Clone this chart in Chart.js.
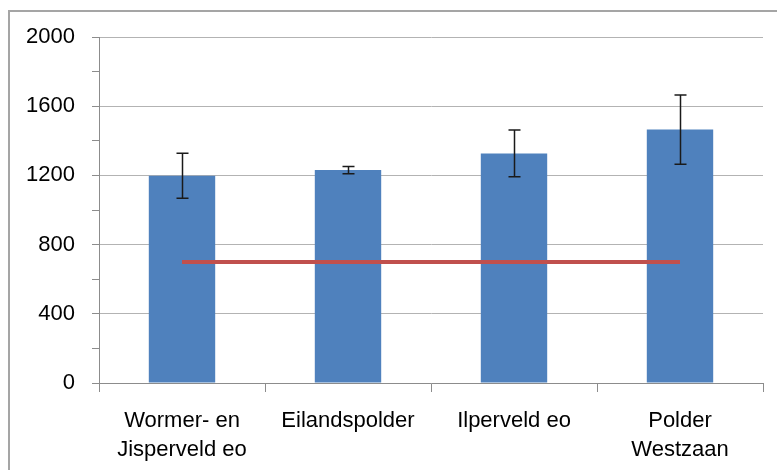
<!DOCTYPE html>
<html>
<head>
<meta charset="utf-8">
<script src="https://cdn.jsdelivr.net/npm/chart.js@4/dist/chart.umd.min.js"></script>
<style>
  html, body { margin: 0; padding: 0; background: #fff; }
  #wrap { position: relative; width: 777px; height: 470px; }
</style>
</head>
<body>
<div id="wrap"><canvas id="chart" width="777" height="470"></canvas></div>
<script>
// chart data
const categories = [
  ['Wormer- en', 'Jisperveld eo'],
  'Eilandspolder',
  'Ilperveld eo',
  ['Polder', 'Westzaan'],
];
const means = [1198, 1231, 1327, 1465];
const errors = [130, 21, 135, 200];
const norm = [700, 700, 700, 700];
const yTicks = [0, 400, 800, 1200, 1600, 2000];

// grey frame round the chart (top and left edge only, as in the picture)
const framePlugin = {
  id: 'frame',
  beforeDraw(chart) {
    const { ctx } = chart;
    ctx.save();
    ctx.fillStyle = '#fff';
    ctx.fillRect(0, 0, chart.width, chart.height);
    ctx.fillStyle = '#a5a5a5';
    ctx.fillRect(8, 10, 2, chart.height - 10);
    ctx.fillRect(8, 10, chart.width - 8, 2);
    ctx.restore();
  },
};

// error bars on top of the bars, read from the errors array
const errorBarPlugin = {
  id: 'errorBars',
  afterDatasetsDraw(chart) {
    const { ctx } = chart;
    const yScale = chart.scales.y;
    const meta = chart.getDatasetMeta(1);
    ctx.save();
    ctx.strokeStyle = '#1a1a1a';
    ctx.lineWidth = 1.5;
    meta.data.forEach((bar, i) => {
      const x = Math.round(bar.x) + 0.5;
      const top = yScale.getPixelForValue(means[i] + errors[i]);
      const bottom = yScale.getPixelForValue(means[i] - errors[i]);
      ctx.beginPath();
      ctx.moveTo(x, top);
      ctx.lineTo(x, bottom);
      ctx.moveTo(x - 6, top);
      ctx.lineTo(x + 6, top);
      ctx.moveTo(x - 6, bottom);
      ctx.lineTo(x + 6, bottom);
      ctx.stroke();
    });
    ctx.restore();
  },
};

const labelFont = { family: 'Liberation Sans', size: 22 };

new Chart(document.getElementById('chart'), {
  type: 'bar',
  data: {
    labels: categories,
    datasets: [
      {
        type: 'line',
        data: norm,
        borderColor: '#c0504d',
        borderWidth: 4,
        pointRadius: 0,
        fill: false,
        order: 0,
      },
      {
        type: 'bar',
        data: means,
        backgroundColor: '#4f81bd',
        borderWidth: 0,
        barPercentage: 0.4,
        categoryPercentage: 1,
        order: 1,
      },
    ],
  },
  options: {
    responsive: false,
    animation: false,
    events: [],
    layout: { padding: { top: 37, right: 14, left: 0, bottom: 0 } },
    plugins: {
      legend: { display: false },
      tooltip: { enabled: false },
    },
    scales: {
      x: {
        offset: true,
        grid: {
          offset: true,
          drawOnChartArea: false,
          drawTicks: true,
          tickLength: 9,
          tickColor: '#8c8c8c',
        },
        border: { color: '#8c8c8c', width: 1 },
        ticks: {
          color: '#000',
          font: { ...labelFont, lineHeight: 1.32 },
          padding: 14,
          maxRotation: 0,
          autoSkip: false,
        },
        afterFit(scale) { scale.height = 87; },
      },
      y: {
        min: 0,
        max: 2000,
        ticks: {
          stepSize: 200,
          color: '#000',
          font: labelFont,
          padding: 17,
          callback: (v) => (yTicks.includes(v) ? String(v) : ''),
        },
        grid: {
          color: (c) => (yTicks.includes(c.tick.value) ? '#b3b3b3' : 'rgba(0,0,0,0)'),
          tickColor: '#8c8c8c',
          tickLength: 7,
          lineWidth: 1,
        },
        border: { color: '#8c8c8c', width: 1 },
        afterFit(scale) { scale.width = 99; },
      },
    },
  },
  plugins: [framePlugin, errorBarPlugin],
});
</script>
</body>
</html>
